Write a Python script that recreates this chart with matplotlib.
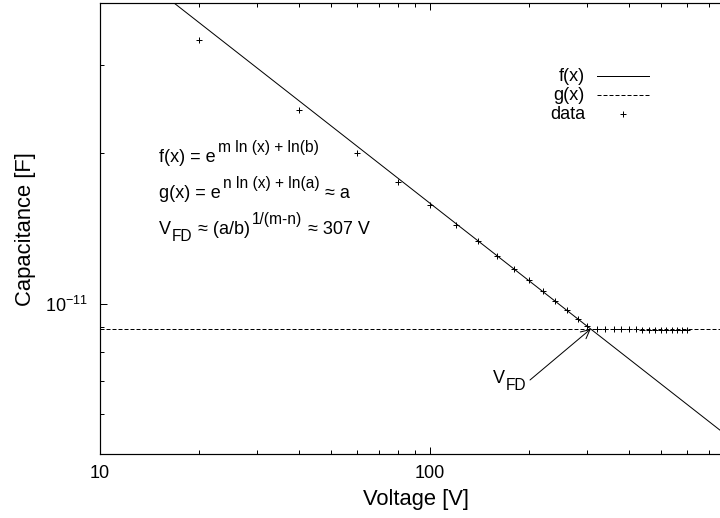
import numpy as np
import matplotlib
matplotlib.use("Agg")
import matplotlib.pyplot as plt
from matplotlib.lines import Line2D
from matplotlib.ticker import NullFormatter

plt.rcParams['font.family'] = ['Liberation Sans', 'DejaVu Sans']
plt.rcParams['axes.unicode_minus'] = False

# measured C-V points (capacitance in pF)
voltage = [20, 40, 60, 80, 100, 120, 140, 160, 180, 200,
           220, 240, 260, 280, 300, 320, 340, 360, 380, 400,
           420, 440, 460, 480, 500, 520, 540, 560, 580, 600]
capacitance_pf = [33.7, 24.4, 20.07, 17.51, 15.73, 14.39, 13.34, 12.45, 11.75, 11.17,
                  10.60, 10.11, 9.73, 9.33, 9.01, 8.91, 8.90, 8.89, 8.89, 8.88,
                  8.88, 8.87, 8.87, 8.87, 8.86, 8.86, 8.86, 8.86, 8.85, 8.85]

# fit parameters: f(x) = b*x^m, g(x) = a*x^n
fit_m, fit_b = -0.517, 1.718e-10
fit_n, fit_a = 0.0, 8.9e-12
v_fd = 307

x_major = [10, 100]
x_major_labels = ["10", "100"]
x_minor = [20, 30, 40, 50, 60, 70, 80, 90, 200, 300, 400, 500, 600, 700, 800, 900]
y_major = [1e-11]
y_minor = [6e-12, 7e-12, 8e-12, 9e-12, 2e-11, 3e-11]

W, H = 720, 518
fig = plt.figure(figsize=(W / 72, H / 72), dpi=72)
# right border of the plot lies outside the picture, like the original crop
ax = fig.add_axes([100 / W, 1 - 454 / H, 660 / W, 451 / H])
ax.set_xscale('log')
ax.set_yscale('log')
ax.set_xlim(10, 1000)
ax.set_ylim(5e-12, 4e-11)

xs = np.logspace(1, 3, 300)
ax.plot(xs, fit_b * xs ** fit_m, color='k', lw=1)
ax.plot(xs, fit_a * xs ** fit_n, color='k', lw=1, dashes=(4, 2))
ax.plot(voltage, np.array(capacitance_pf) * 1e-12, 'k+', ms=6, mew=1)

ax.set_xticks(x_major, labels=x_major_labels)
ax.set_xticks(x_minor, minor=True)
ax.set_yticks(y_major)
ax.set_yticks(y_minor, minor=True)
ax.xaxis.set_minor_formatter(NullFormatter())
ax.yaxis.set_minor_formatter(NullFormatter())
ax.tick_params(which='both', direction='in', top=True, right=True, width=1, labelsize=18)
ax.tick_params(which='major', length=7)
ax.tick_params(which='minor', length=4)
ax.tick_params(axis='x', pad=11)
ax.tick_params(axis='y', pad=12)
for sp in ax.spines.values():
    sp.set_linewidth(1.2)

fig.text(416 / W, 1 - 499 / H, "Voltage [V]", fontsize=22, ha='center', va='center')
fig.text(26 / W, 1 - 229 / H, "Capacitance [F]", fontsize=22, ha='center', va='center',
         rotation=90)

renderer = fig.canvas.get_renderer()


def put_text(x, y, parts):
    # parts: (string, size, rise in px, gap before in px), drawn left to right
    for s, size, rise, gap in parts:
        x += gap
        t = fig.text(x / W, 1 - (y - rise) / H, s, fontsize=size, ha='left', va='baseline')
        x += t.get_window_extent(renderer).width
    return x


put_text(159, 162, [("f(x) = e", 18, 0, 0), ("m ln (x) + ln(b)", 15.5, 10, 2)])
put_text(159, 198, [("g(x) = e", 18, 0, 0), ("n ln (x) + ln(a)", 15.5, 10, 2),
                    ("\u2248 a", 18, 0, 6)])
put_text(159, 234, [("V", 18, 0, 0), ("FD", 15.5, -7, 1), ("\u2248 (a/b)", 18, 0, 5),
                    ("1/(m-n)", 15.5, 10, 2), ("\u2248 307 V", 18, 0, 6)])

# arrow pointing at the crossing point
ax.annotate("", xy=(v_fd, fit_a), xytext=(530, H - 380), textcoords='figure pixels',
            arrowprops=dict(arrowstyle='->', color='k', lw=1, mutation_scale=22,
                            shrinkA=0, shrinkB=0))
put_text(493, 383, [("V", 18, 0, 0), ("FD", 15.5, -7, 1)])

# legend, gnuplot style (labels right aligned, sample to the right)
leg_rows = [("f(x)", 81), ("g(x)", 100), ("data", 119)]
for label, yb in leg_rows:
    fig.text(585 / W, 1 - yb / H, label, fontsize=18, ha='right', va='baseline')
fig.add_artist(Line2D([597 / W, 649 / W], [1 - 75.5 / H] * 2, color='k', lw=1))
fig.add_artist(Line2D([597 / W, 649 / W], [1 - 94.5 / H] * 2, color='k', lw=1,
                      dashes=(4, 2)))
fig.add_artist(Line2D([623 / W], [1 - 113.5 / H], color='k', ls='none', marker='+',
                      ms=6, mew=1))

fig.savefig("out.png", dpi=72)
